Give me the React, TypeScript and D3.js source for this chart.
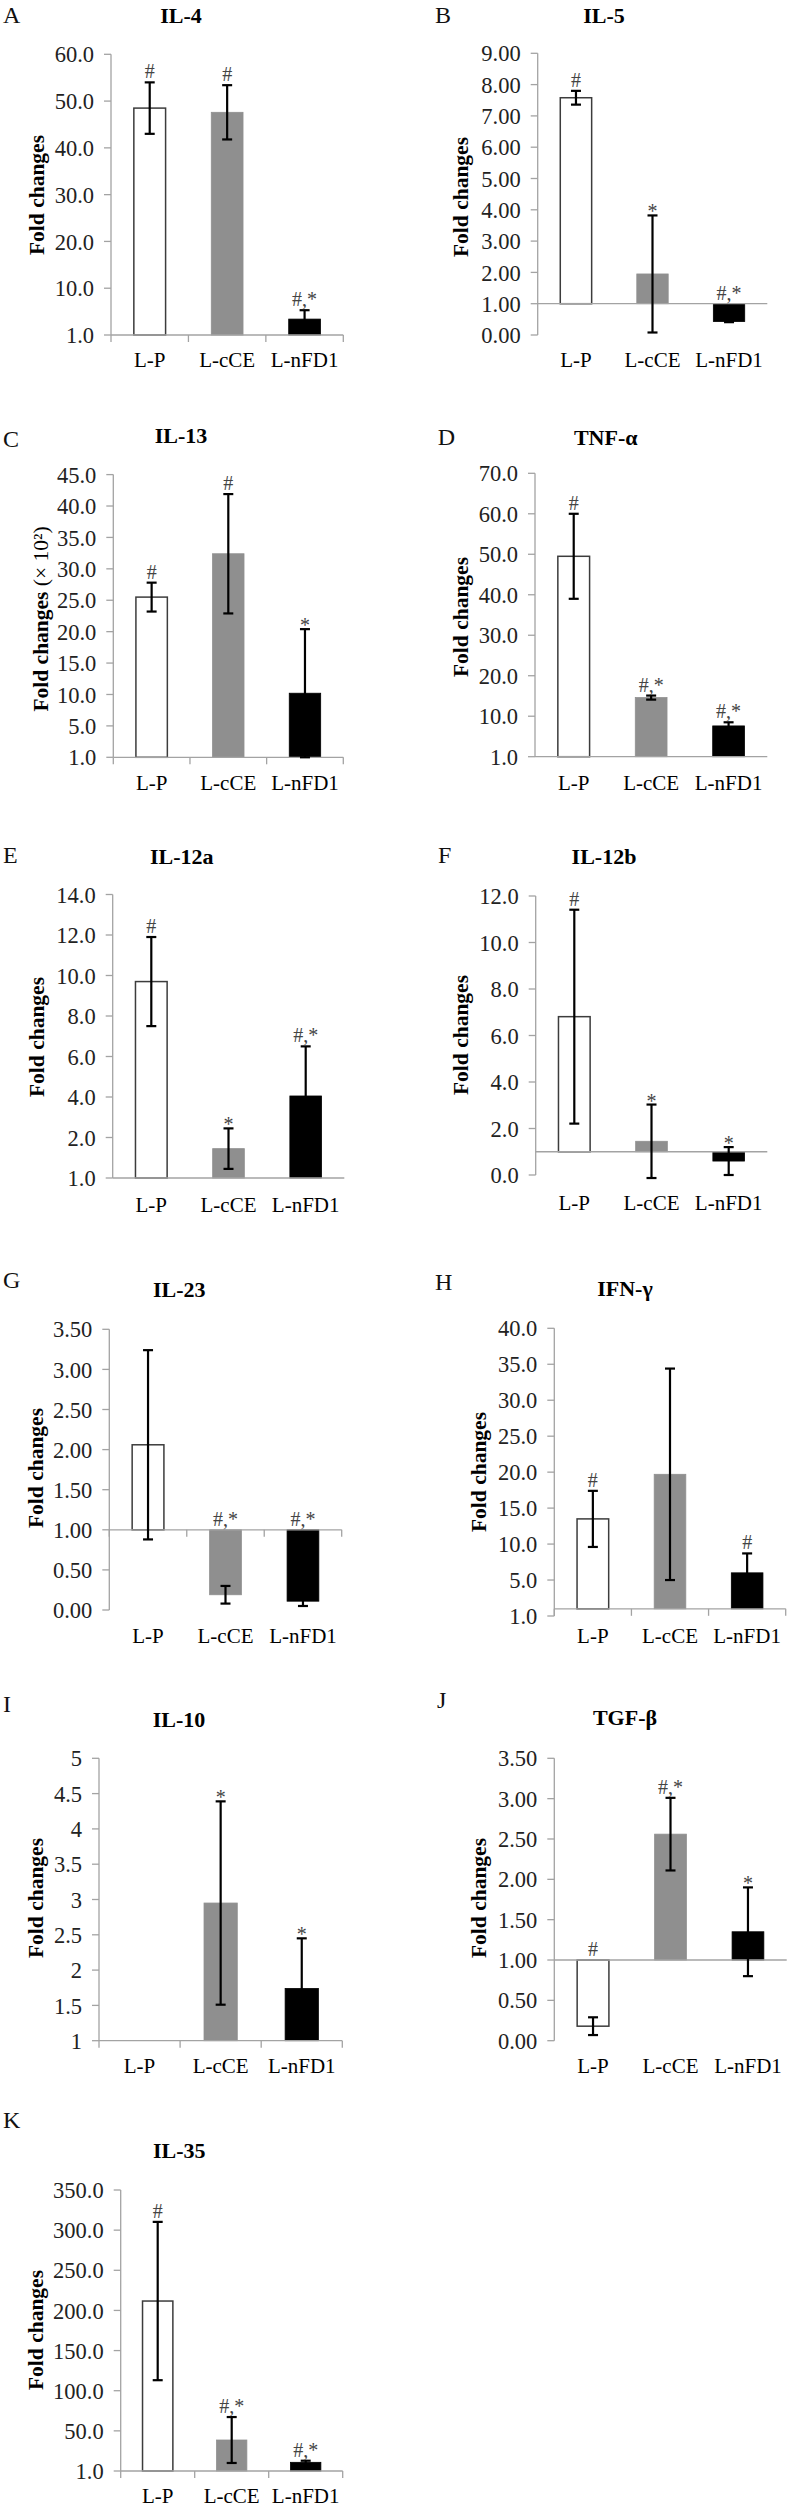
import { scaleBand, scaleLinear } from "d3";

const groups = ["L-P", "L-cCE", "L-nFD1"];
const barColors = ["#ffffff", "#8f8f8f", "#000000"];

// IL-4
const il4Mean = [48.5, 47.6, 3.4];
const il4Err = [5.5, 5.8, 1.9];
const il4Marks = ["#", "#", "#,*"];
const il4Ticks = [0, 10, 20, 30, 40, 50, 60];
const il4TickLabels = ["1.0", "10.0", "20.0", "30.0", "40.0", "50.0", "60.0"];

// IL-5
const il5Mean = [7.58, 1.95, 0.43];
const il5Err = [0.22, 1.87, 0.02];
const il5Marks = ["#", "*", "#,*"];
const il5Ticks = [0, 1, 2, 3, 4, 5, 6, 7, 8, 9];
const il5TickLabels = ["0.00", "1.00", "2.00", "3.00", "4.00", "5.00", "6.00", "7.00", "8.00", "9.00"];

// IL-13
const il13Mean = [25.5, 32.4, 10.2];
const il13Err = [2.3, 9.5, 10.2];
const il13Marks = ["#", "#", "*"];
const il13Ticks = [0, 5, 10, 15, 20, 25, 30, 35, 40, 45];
const il13TickLabels = ["1.0", "5.0", "10.0", "15.0", "20.0", "25.0", "30.0", "35.0", "40.0", "45.0"];

// TNF-α
const tnfMean = [49.5, 14.6, 7.6];
const tnfErr = [10.5, 0.5, 0.9];
const tnfMarks = ["#", "#,*", "#,*"];
const tnfTicks = [0, 10, 20, 30, 40, 50, 60, 70];
const tnfTickLabels = ["1.0", "10.0", "20.0", "30.0", "40.0", "50.0", "60.0", "70.0"];

// IL-12a
const il12aMean = [9.7, 1.45, 4.05];
const il12aErr = [2.2, 1.0, 2.45];
const il12aMarks = ["#", "*", "#,*"];
const il12aTicks = [0, 2, 4, 6, 8, 10, 12, 14];
const il12aTickLabels = ["1.0", "2.0", "4.0", "6.0", "8.0", "10.0", "12.0", "14.0"];

// IL-12b
const il12bMean = [6.81, 1.45, 0.6];
const il12bErr = [4.6, 1.58, 0.6];
const il12bMarks = ["#", "*", "*"];
const il12bTicks = [0, 2, 4, 6, 8, 10, 12];
const il12bTickLabels = ["0.0", "2.0", "4.0", "6.0", "8.0", "10.0", "12.0"];

// IL-23
const il23Mean = [2.06, 0.19, 0.11];
const il23Err = [1.18, 0.11, 0.06];
const il23Marks = ["", "#,*", "#,*"];
const il23Ticks = [0, 0.5, 1, 1.5, 2, 2.5, 3, 3.5];
const il23TickLabels = ["0.00", "0.50", "1.00", "1.50", "2.00", "2.50", "3.00", "3.50"];

// IFN-γ
const ifnMean = [13.5, 19.7, 6.0];
const ifnErr = [3.9, 14.7, 2.7];
const ifnMarks = ["#", "", "#"];
const ifnTicks = [0, 5, 10, 15, 20, 25, 30, 35, 40];
const ifnTickLabels = ["1.0", "5.0", "10.0", "15.0", "20.0", "25.0", "30.0", "35.0", "40.0"];

// IL-10
const il10Mean = [1.0, 2.95, 1.74];
const il10Err = [0, 1.44, 0.71];
const il10Marks = ["", "*", "*"];
const il10Ticks = [1, 1.5, 2, 2.5, 3, 3.5, 4, 4.5, 5];
const il10TickLabels = ["1", "1.5", "2", "2.5", "3", "3.5", "4", "4.5", "5"];

// TGF-β
const tgfMean = [0.18, 2.56, 1.35];
const tgfErr = [0.11, 0.45, 0.55];
const tgfMarks = ["#", "#,*", "*"];
const tgfTicks = [0, 0.5, 1, 1.5, 2, 2.5, 3, 3.5];
const tgfTickLabels = ["0.00", "0.50", "1.00", "1.50", "2.00", "2.50", "3.00", "3.50"];

// IL-35
const il35Mean = [211.7, 38.6, 10.8];
const il35Err = [98.6, 28.6, 2.0];
const il35Marks = ["#", "#,*", "#,*"];
const il35Ticks = [0, 50, 100, 150, 200, 250, 300, 350];
const il35TickLabels = ["1.0", "50.0", "100.0", "150.0", "200.0", "250.0", "300.0", "350.0"];

const font = "'Liberation Serif', 'Times New Roman', serif";
const axisColor = "#a3a3a3";

type Panel = {
  letter: string;
  title: string;
  mean: number[];
  err: number[];
  marks: string[];
  ticks: number[];
  tickLabels: string[];
  base: number;
  yUnit?: boolean;
  // layout
  x0: number;
  x1: number;
  y0: number;
  y1: number;
  xTicks: boolean;
  lx: number;
  ly: number;
  tx: number;
  ty: number;
  labelX: number;
  labelY: number;
  catY: number;
};

const panels: Panel[] = [
  { letter: "A", title: "IL-4", mean: il4Mean, err: il4Err, marks: il4Marks, ticks: il4Ticks, tickLabels: il4TickLabels, base: 0,
    x0: 111, x1: 343.3, y0: 335, y1: 54.3, xTicks: true, lx: 3, ly: 23, tx: 181, ty: 23, labelX: 36, labelY: 195, catY: 367 },
  { letter: "B", title: "IL-5", mean: il5Mean, err: il5Err, marks: il5Marks, ticks: il5Ticks, tickLabels: il5TickLabels, base: 1,
    x0: 537.7, x1: 767.3, y0: 335, y1: 53.3, xTicks: false, lx: 435, ly: 23, tx: 604, ty: 23, labelX: 460, labelY: 197, catY: 367 },
  { letter: "C", title: "IL-13", mean: il13Mean, err: il13Err, marks: il13Marks, ticks: il13Ticks, tickLabels: il13TickLabels, base: 0, yUnit: true,
    x0: 113.3, x1: 343.3, y0: 757.3, y1: 474.6, xTicks: true, lx: 3, ly: 447, tx: 181, ty: 443, labelX: 40, labelY: 619, catY: 790 },
  { letter: "D", title: "TNF-α", mean: tnfMean, err: tnfErr, marks: tnfMarks, ticks: tnfTicks, tickLabels: tnfTickLabels, base: 0,
    x0: 535, x1: 767.3, y0: 756.7, y1: 473.3, xTicks: false, lx: 437.7, ly: 445, tx: 605.7, ty: 445, labelX: 460, labelY: 617, catY: 790 },
  { letter: "E", title: "IL-12a", mean: il12aMean, err: il12aErr, marks: il12aMarks, ticks: il12aTicks, tickLabels: il12aTickLabels, base: 0,
    x0: 112.7, x1: 344.3, y0: 1178, y1: 894.5, xTicks: false, lx: 3, ly: 863, tx: 181.7, ty: 864, labelX: 36, labelY: 1037, catY: 1211.7 },
  { letter: "F", title: "IL-12b", mean: il12bMean, err: il12bErr, marks: il12bMarks, ticks: il12bTicks, tickLabels: il12bTickLabels, base: 1,
    x0: 535.7, x1: 767.3, y0: 1175, y1: 896, xTicks: false, lx: 438, ly: 863, tx: 604, ty: 864, labelX: 460, labelY: 1035, catY: 1210 },
  { letter: "G", title: "IL-23", mean: il23Mean, err: il23Err, marks: il23Marks, ticks: il23Ticks, tickLabels: il23TickLabels, base: 1,
    x0: 109.3, x1: 341.7, y0: 1610, y1: 1329.3, xTicks: true, lx: 3, ly: 1288, tx: 179.3, ty: 1297, labelX: 35, labelY: 1468, catY: 1643 },
  { letter: "H", title: "IFN-γ", mean: ifnMean, err: ifnErr, marks: ifnMarks, ticks: ifnTicks, tickLabels: ifnTickLabels, base: 1,
    x0: 554.3, x1: 785.7, y0: 1616, y1: 1328.3, xTicks: true, lx: 435, ly: 1290, tx: 625, ty: 1296, labelX: 478, labelY: 1472, catY: 1643 },
  { letter: "I", title: "IL-10", mean: il10Mean, err: il10Err, marks: il10Marks, ticks: il10Ticks, tickLabels: il10TickLabels, base: 1,
    x0: 99, x1: 342.3, y0: 2040.7, y1: 1758.3, xTicks: true, lx: 3, ly: 1712, tx: 179, ty: 1727, labelX: 35, labelY: 1898, catY: 2073 },
  { letter: "J", title: "TGF-β", mean: tgfMean, err: tgfErr, marks: tgfMarks, ticks: tgfTicks, tickLabels: tgfTickLabels, base: 1,
    x0: 554.3, x1: 786.7, y0: 2040.7, y1: 1758.3, xTicks: false, lx: 437, ly: 1708, tx: 625, ty: 1725, labelX: 478, labelY: 1898, catY: 2073 },
  { letter: "K", title: "IL-35", mean: il35Mean, err: il35Err, marks: il35Marks, ticks: il35Ticks, tickLabels: il35TickLabels, base: 0,
    x0: 120.7, x1: 342.7, y0: 2471, y1: 2190, xTicks: true, lx: 3, ly: 2128, tx: 179.3, ty: 2158, labelX: 35, labelY: 2330, catY: 2503 },
];

function BarPanel({ p }: { p: Panel }) {
  const x = scaleBand<string>().domain(groups).range([p.x0, p.x1]).padding(0);
  const y = scaleLinear()
    .domain([p.ticks[0], p.ticks[p.ticks.length - 1]])
    .range([p.y0, p.y1]);
  const barW = x.step() * 0.41;
  const capW = 10;
  const yBase = y(p.base);

  return (
    <g>
      <text x={p.lx} y={p.ly} fontSize={24} fontFamily={font} fill="#111">
        {p.letter}
      </text>
      <text x={p.tx} y={p.ty} fontSize={22} fontWeight="bold" fontFamily={font} textAnchor="middle" fill="#000">
        {p.title}
      </text>
      <text
        transform={`translate(${p.labelX},${p.labelY}) rotate(-90)`}
        fontSize={21.5}
        fontFamily={font}
        textAnchor="middle"
        dy="0.35em"
        fill="#000"
      >
        <tspan fontWeight="bold">Fold changes</tspan>
        {p.yUnit ? <tspan> (× 10²)</tspan> : null}
      </text>

      {/* y axis */}
      <line x1={p.x0} x2={p.x0} y1={p.y1} y2={p.y0} stroke={axisColor} strokeWidth={1.3} />
      {p.ticks.map((t, i) => (
        <g key={t}>
          <line x1={p.x0 - 7} x2={p.x0} y1={y(t)} y2={y(t)} stroke={axisColor} strokeWidth={1.3} />
          <text
            x={p.x0 - 17}
            y={y(t)}
            dy="0.36em"
            textAnchor="end"
            fontSize={22.5}
            fontFamily={font}
            fill="#222"
          >
            {p.tickLabels[i]}
          </text>
        </g>
      ))}

      {/* bars */}
      {groups.map((g, i) => {
        const cx = (x(g) ?? 0) + x.bandwidth() / 2;
        const yv = y(p.mean[i]);
        const top = Math.min(yv, yBase);
        const h = Math.abs(yv - yBase);
        if (h < 0.5) return null;
        return (
          <rect
            key={g}
            x={cx - barW / 2}
            y={top}
            width={barW}
            height={h}
            fill={barColors[i]}
            stroke={i === 0 ? "#3c3c3c" : barColors[i]}
            strokeWidth={i === 0 ? 1.5 : 0.8}
          />
        );
      })}

      {/* x axis */}
      <line x1={p.x0} x2={p.x1} y1={yBase} y2={yBase} stroke={axisColor} strokeWidth={1.3} />
      {p.xTicks
        ? [0, 1, 2, 3].map((k) => (
            <line
              key={k}
              x1={p.x0 + x.step() * k}
              x2={p.x0 + x.step() * k}
              y1={yBase}
              y2={yBase + 7}
              stroke={axisColor}
              strokeWidth={1.3}
            />
          ))
        : null}

      {/* error bars */}
      {groups.map((g, i) => {
        if (p.err[i] <= 0) return null;
        const cx = (x(g) ?? 0) + x.bandwidth() / 2;
        const hi = y(p.mean[i] + p.err[i]);
        const lo = y(p.mean[i] - p.err[i]);
        return (
          <g key={g} stroke="#000" strokeWidth={2.2}>
            <line x1={cx} x2={cx} y1={hi} y2={lo} />
            <line x1={cx - capW / 2} x2={cx + capW / 2} y1={hi} y2={hi} />
            <line x1={cx - capW / 2} x2={cx + capW / 2} y1={lo} y2={lo} />
          </g>
        );
      })}

      {/* significance marks */}
      {groups.map((g, i) => {
        const m = p.marks[i];
        if (!m) return null;
        const cx = (x(g) ?? 0) + x.bandwidth() / 2;
        const anchor = Math.min(y(p.mean[i] + p.err[i]), y(p.mean[i]), yBase);
        const yy = m === "*" ? anchor + 3 : anchor - 4;
        return (
          <text key={g} x={cx} y={yy} textAnchor="middle" fontSize={20} fontFamily={font} fill="#444">
            {m}
          </text>
        );
      })}

      {/* category labels */}
      {groups.map((g) => (
        <text
          key={g}
          x={(x(g) ?? 0) + x.bandwidth() / 2}
          y={p.catY}
          textAnchor="middle"
          fontSize={21}
          fontFamily={font}
          fill="#000"
        >
          {g}
        </text>
      ))}
    </g>
  );
}

export default function App() {
  return (
    <svg
      width={791}
      height={2507}
      viewBox="0 0 791 2507"
      style={{ position: "absolute", left: 0, top: 0, background: "#fff", display: "block" }}
    >
      <rect width={791} height={2507} fill="#fff" />
      {panels.map((p) => (
        <BarPanel key={p.letter} p={p} />
      ))}
    </svg>
  );
}
